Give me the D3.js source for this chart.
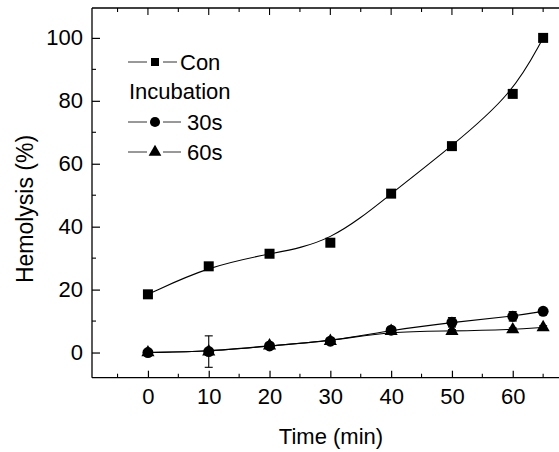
<!DOCTYPE html>
<html>
<head>
<meta charset="utf-8">
<script src="https://cdn.jsdelivr.net/npm/d3@7"></script>
<style>
  html, body { margin: 0; padding: 0; background: #fff; }
  svg { display: block; font-family: "Liberation Sans", Arial, sans-serif; }
</style>
</head>
<body>
<svg id="chart" width="559" height="452"></svg>
<script>
// Sampling times (min)
const times = [0, 10, 20, 30, 40, 50, 60, 65];
// Hemolysis (%) for each group
const conValues = [18.5, 27.4, 31.4, 34.9, 50.5, 65.6, 82.2, 100];
const conErrors = [0.8, 0.8, 0.8, 0.8, 0.8, 0.8, 0.8, 0.8];
const inc30Values = [0.0, 0.3, 2.1, 3.6, 7.1, 9.6, 11.5, 13.1];
const inc30Errors = [0.6, 5.0, 0.6, 0.6, 0.8, 1.5, 1.5, 0.5];
const inc60Values = [0.0, 0.3, 2.2, 3.6, 6.8, 6.8, 7.3, 8.0];
const inc60Errors = [0.5, 0.5, 0.5, 0.5, 0.5, 0.5, 0.5, 0.5];
// Axis ticks
const xTicks = [0, 10, 20, 30, 40, 50, 60];
const yTicks = [0, 20, 40, 60, 80, 100];
const legendLabels = ["Con", "Incubation", "30s", "60s"];

const svg = d3.select("#chart");
const plotLeft = 92, plotTop = 8, plotBottom = 377.7;

const x = d3.scaleLinear().domain([-9.2, 70]).range([plotLeft, plotLeft + 79.2 * 6.08]);
const y = d3.scaleLinear().domain([-8, 109.5]).range([plotBottom, plotTop]);
const plotRight = x(70);

const font = 22;
const fam = "Liberation Sans, Arial, sans-serif";

// Frame
svg.append("line").attr("x1", plotLeft).attr("x2", plotRight).attr("y1", plotTop).attr("y2", plotTop).attr("stroke", "#000").attr("stroke-width", 1.3);
svg.append("line").attr("x1", plotLeft).attr("x2", plotRight).attr("y1", plotBottom).attr("y2", plotBottom).attr("stroke", "#000").attr("stroke-width", 1.3);
svg.append("line").attr("x1", plotLeft).attr("x2", plotLeft).attr("y1", plotTop).attr("y2", plotBottom).attr("stroke", "#000").attr("stroke-width", 1.3);

// Bottom axis (ticks inward)
const xAxis = d3.axisBottom(x).tickValues(xTicks).tickSize(-7).tickPadding(11).tickFormat(d3.format("d"));
const gx = svg.append("g").attr("transform", `translate(0,${plotBottom})`).call(xAxis);
gx.select(".domain").remove();
gx.selectAll("text").attr("font-size", font).attr("fill", "#000").attr("font-family", fam);
gx.selectAll("line").attr("stroke-width", 1.2);

// Minor x ticks
const xMinor = d3.range(-5, 70, 10);
svg.append("g").selectAll("line").data(xMinor).join("line")
  .attr("x1", d => x(d)).attr("x2", d => x(d))
  .attr("y1", plotBottom).attr("y2", plotBottom - 4).attr("stroke", "#000").attr("stroke-width", 1.1);
// Top ticks
svg.append("g").selectAll("line").data(d3.range(-5, 70, 5)).join("line")
  .attr("x1", d => x(d)).attr("x2", d => x(d))
  .attr("y1", plotTop).attr("y2", d => plotTop + (d % 10 === 0 ? 7 : 4)).attr("stroke", "#000").attr("stroke-width", 1.1);

// Left axis
const yAxis = d3.axisLeft(y).tickValues(yTicks).tickSize(-8).tickPadding(9).tickFormat(d3.format("d"));
const gy = svg.append("g").attr("transform", `translate(${plotLeft},0)`).call(yAxis);
gy.select(".domain").remove();
gy.selectAll("text").attr("font-size", font).attr("fill", "#000").attr("font-family", fam);
gy.selectAll("line").attr("stroke-width", 1.2);

svg.append("g").selectAll("line").data(d3.range(10, 110, 20)).join("line")
  .attr("x1", plotLeft).attr("x2", plotLeft + 4)
  .attr("y1", d => y(d)).attr("y2", d => y(d)).attr("stroke", "#000").attr("stroke-width", 1.1);

// Axis titles
svg.append("text").attr("x", 331).attr("y", 444).attr("text-anchor", "middle")
  .attr("font-size", font).text("Time (min)");
svg.append("text").attr("transform", "translate(33,209) rotate(-90)").attr("text-anchor", "middle")
  .attr("font-size", 23).text("Hemolysis (%)");

const plot = svg.append("g");

function series(values, errors, symbolType, size) {
  const pts = times.map((t, i) => ({ t, v: values[i], e: errors[i] }));
  plot.append("path").datum(pts)
    .attr("d", d3.line().x(d => x(d.t)).y(d => y(d.v)).curve(d3.curveBasis))
    .attr("fill", "none").attr("stroke", "#000").attr("stroke-width", 1.1);
  const eb = plot.append("g").selectAll("g").data(pts).join("g");
  eb.append("line").attr("x1", d => x(d.t)).attr("x2", d => x(d.t))
    .attr("y1", d => y(d.v - d.e)).attr("y2", d => y(d.v + d.e)).attr("stroke", "#000").attr("stroke-width", 1.1);
  [-1, 1].forEach(s => {
    eb.append("line").attr("x1", d => x(d.t) - 4).attr("x2", d => x(d.t) + 4)
      .attr("y1", d => y(d.v + s * d.e)).attr("y2", d => y(d.v + s * d.e)).attr("stroke", "#000").attr("stroke-width", 1.1);
  });
  plot.append("g").selectAll("path").data(pts).join("path")
    .attr("transform", d => `translate(${x(d.t)},${y(d.v)})`)
    .attr("d", d3.symbol().type(symbolType).size(size)).attr("fill", "#000");
}

series(conValues, conErrors, d3.symbolSquare, 100);
series(inc60Values, inc60Errors, d3.symbolTriangle, 75);
series(inc30Values, inc30Errors, d3.symbolCircle, 95);

// Legend
const lg = svg.append("g");
const rows = [
  { label: legendLabels[0], sym: d3.symbolSquare, size: 64, cy: 62, tx: 180, lx: 177 },
  { label: legendLabels[2], sym: d3.symbolCircle, size: 80, cy: 122, tx: 187, lx: 181 },
  { label: legendLabels[3], sym: d3.symbolTriangle, size: 70, cy: 152, tx: 187, lx: 181 }
];
rows.forEach(r => {
  lg.append("line").attr("x1", 128).attr("x2", 147).attr("y1", r.cy).attr("y2", r.cy).attr("stroke", "#333").attr("stroke-width", 1);
  lg.append("line").attr("x1", 163).attr("x2", r.lx).attr("y1", r.cy).attr("y2", r.cy).attr("stroke", "#333").attr("stroke-width", 1);
  lg.append("path").attr("transform", `translate(155,${r.cy})`).attr("d", d3.symbol().type(r.sym).size(r.size)).attr("fill", "#000");
  lg.append("text").attr("x", r.tx).attr("y", r.cy + 8).attr("font-size", font).text(r.label);
});
lg.append("text").attr("x", 129).attr("y", 99).attr("font-size", font).text(legendLabels[1]);
</script>
</body>
</html>
